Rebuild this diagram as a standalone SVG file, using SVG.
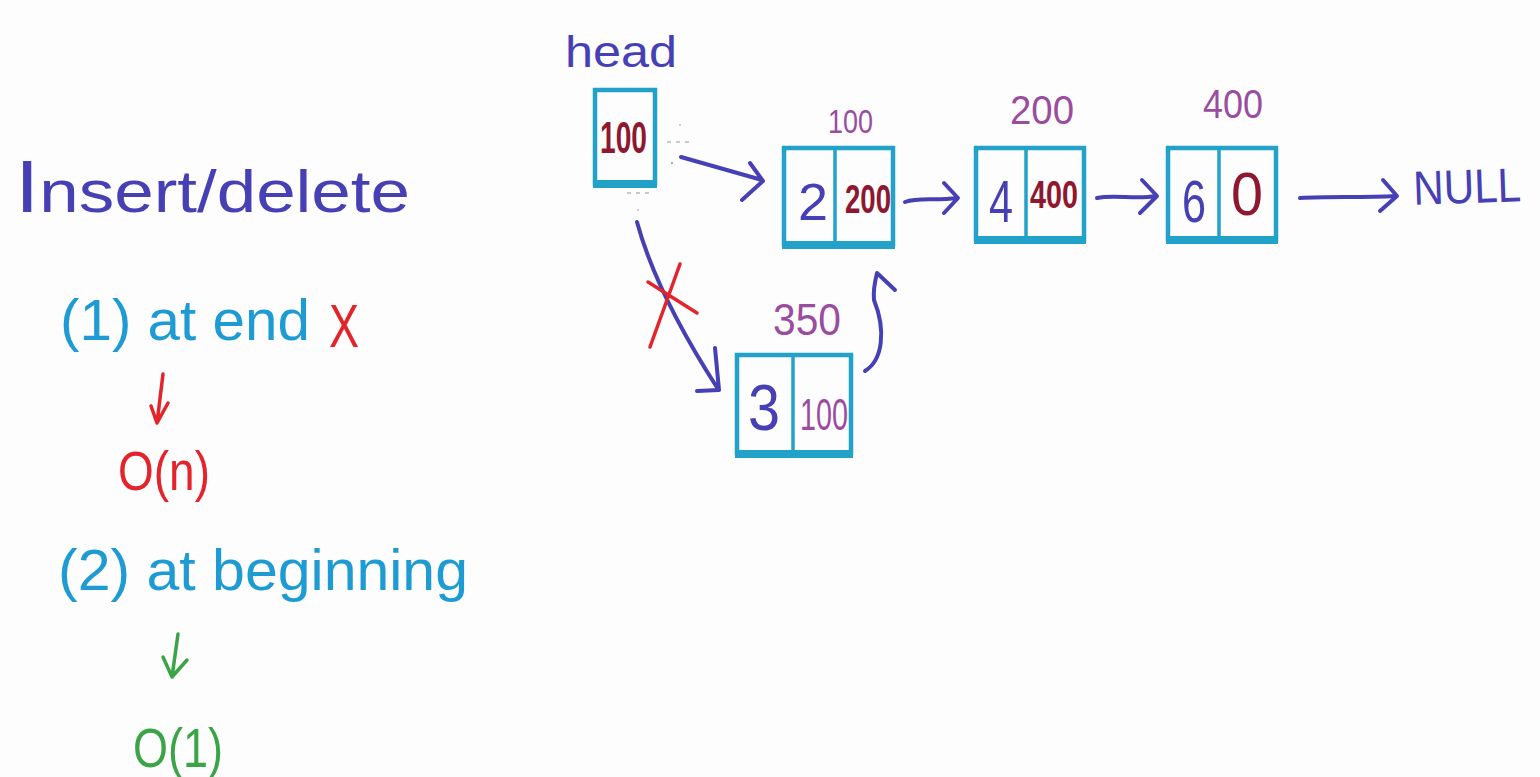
<svg xmlns="http://www.w3.org/2000/svg" width="1540" height="777" viewBox="0 0 1540 777">
  <style>
    .box { fill: none; stroke: #22a2c8; stroke-width: 4.5; }
    .base { stroke: #22a2c8; stroke-width: 8; stroke-linecap: butt; }
    .div { stroke: #22a2c8; stroke-width: 3.5; }
    .ink { fill: none; stroke: #4640b4; stroke-width: 4; stroke-linecap: round; stroke-linejoin: round; }
    .hand { font-family: "Liberation Sans", "DejaVu Sans", sans-serif; }
    .blue { fill: #4640b4; }
    .cyan { fill: #1f9bd4; }
    .maroon { fill: #8e1830; font-weight: bold; }
    .thin { font-weight: normal; }
    .plum { fill: #9a4c9f; }
    .red { fill: #e3242b; }
    .green { fill: #3ba446; }
    .faint { stroke: #b8b8b8; stroke-width: 1.5; stroke-dasharray: 4 5; }
  </style>

  <rect width="1540" height="777" fill="#fdfdfd"/>

  <!-- left side notes -->
  <g id="notes" class="hand">
    <text x="15" y="212" class="blue" font-size="60" textLength="395" lengthAdjust="spacingAndGlyphs"><tspan font-size="74">I</tspan>nsert/delete</text>
    <text x="60" y="340" class="cyan" font-size="58" textLength="250" lengthAdjust="spacingAndGlyphs">(1) at end</text>
    <text x="329" y="347" class="red" font-size="62" textLength="30" lengthAdjust="spacingAndGlyphs">X</text>
    <text x="118" y="490" class="red" font-size="56" textLength="92" lengthAdjust="spacingAndGlyphs">O(n)</text>
    <text x="58" y="590" class="cyan" font-size="58" textLength="410" lengthAdjust="spacingAndGlyphs">(2) at beginning</text>
    <text x="133" y="767" class="green" font-size="56" textLength="90" lengthAdjust="spacingAndGlyphs">O(1)</text>
    <path d="M163,374 L157,423 M151,406 L157,423 L168,403" fill="none" stroke="#e3242b" stroke-width="3.5" stroke-linecap="round" stroke-linejoin="round"/>
    <path d="M178,634 L172,677 M163,657 L172,677 L187,660" fill="none" stroke="#3ba446" stroke-width="3.5" stroke-linecap="round" stroke-linejoin="round"/>
  </g>

  <!-- head pointer -->
  <g id="head">
    <text x="565" y="67" class="hand blue" font-size="44" textLength="112" lengthAdjust="spacingAndGlyphs">head</text>
    <rect x="595" y="90" width="60" height="93" class="box"/>
    <line x1="593" y1="184" x2="657" y2="184" class="base"/>
    <text x="600" y="153" class="hand maroon" font-size="44" textLength="47" lengthAdjust="spacingAndGlyphs">100</text>
  </g>

  <!-- node at address 100 -->
  <g id="node100">
    <text x="828" y="133" class="hand plum" font-size="34" textLength="45" lengthAdjust="spacingAndGlyphs">100</text>
    <rect x="784" y="148" width="109" height="96" class="box"/>
    <line x1="782" y1="245" x2="895" y2="245" class="base"/>
    <line x1="835" y1="148" x2="835" y2="244" class="div"/>
    <text x="798" y="220" class="hand blue" font-size="52" textLength="30" lengthAdjust="spacingAndGlyphs">2</text>
    <text x="845" y="213" class="hand maroon" font-size="40" textLength="46" lengthAdjust="spacingAndGlyphs">200</text>
  </g>

  <!-- node at address 200 -->
  <g id="node200">
    <text x="1010" y="124" class="hand plum" font-size="40" textLength="64" lengthAdjust="spacingAndGlyphs">200</text>
    <rect x="976" y="148" width="108" height="91" class="box"/>
    <line x1="974" y1="240" x2="1086" y2="240" class="base"/>
    <line x1="1026" y1="148" x2="1026" y2="239" class="div"/>
    <text x="989" y="222" class="hand blue" font-size="60" textLength="24" lengthAdjust="spacingAndGlyphs">4</text>
    <text x="1030" y="208" class="hand maroon" font-size="38" textLength="48" lengthAdjust="spacingAndGlyphs">400</text>
  </g>

  <!-- node at address 400 -->
  <g id="node400">
    <text x="1203" y="118" class="hand plum" font-size="40" textLength="60" lengthAdjust="spacingAndGlyphs">400</text>
    <rect x="1168" y="148" width="108" height="91" class="box"/>
    <line x1="1166" y1="240" x2="1278" y2="240" class="base"/>
    <line x1="1219" y1="148" x2="1219" y2="239" class="div"/>
    <text x="1182" y="222" class="hand blue" font-size="60" textLength="24" lengthAdjust="spacingAndGlyphs">6</text>
    <text x="1231" y="215" class="hand maroon thin" font-size="62" textLength="32" lengthAdjust="spacingAndGlyphs">0</text>
  </g>

  <!-- new node at address 350 -->
  <g id="node350">
    <text x="773" y="335" class="hand plum" font-size="44" textLength="68" lengthAdjust="spacingAndGlyphs">350</text>
    <rect x="737" y="355" width="114" height="98" class="box"/>
    <line x1="735" y1="454" x2="853" y2="454" class="base"/>
    <line x1="793" y1="355" x2="793" y2="453" class="div"/>
    <text x="748" y="430" class="hand blue" font-size="64" textLength="32" lengthAdjust="spacingAndGlyphs">3</text>
    <text x="800" y="430" class="hand plum" font-size="44" textLength="48" lengthAdjust="spacingAndGlyphs">100</text>
  </g>

  <!-- NULL terminator -->
  <g id="null">
    <text x="1413" y="203" class="hand blue" font-size="48" textLength="108" lengthAdjust="spacingAndGlyphs" transform="rotate(-2 1467 185)">NULL</text>
  </g>

  <!-- pointer arrows -->
  <g id="connectors">
    <path class="ink" d="M681,157 L762,180 M750,163 L763,181 L742,200"/>
    <path class="ink" d="M905,202 C918,197 935,201 957,198 M944,183 L958,198 L944,213"/>
    <path class="ink" d="M1097,198 C1115,194 1135,200 1156,196 M1142,180 L1157,196 L1140,213"/>
    <path class="ink" d="M1300,198 C1330,196 1360,198 1396,196 M1383,180 L1397,196 L1380,211"/>
    <path class="ink" d="M637,222 C650,270 680,330 718,389 M715,348 L719,390 L697,391"/>
    <path class="ink" d="M865,371 C883,360 886,330 874,300 C873,290 875,281 877,273 L895,290"/>
    <path d="M648,282 L697,313 M680,264 L650,347" fill="none" stroke="#e3242b" stroke-width="3.5" stroke-linecap="round"/>
  </g>

  <!-- faint pen marks beside the head box -->
  <g id="marks">
    <line x1="667" y1="142" x2="692" y2="142" class="faint"/>
    <line x1="627" y1="193" x2="652" y2="193" class="faint"/>
    <circle cx="680" cy="125" r="1" fill="#bbb"/>
    <circle cx="672" cy="163" r="1.2" fill="#aaa"/>
    <circle cx="638" cy="210" r="1" fill="#bbb"/>
  </g>
</svg>
